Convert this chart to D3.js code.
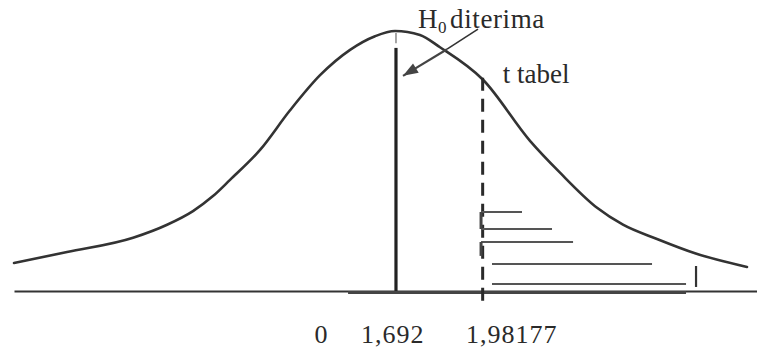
<!DOCTYPE html>
<html>
<head>
<meta charset="utf-8">
<script src="https://cdn.jsdelivr.net/npm/d3@7"></script>
<style>
  html, body { margin: 0; padding: 0; background: #fff; }
  svg { display: block; }
  text { font-family: "Liberation Serif", "Times New Roman", serif; fill: #2a2a2a; }
</style>
</head>
<body>
<svg id="chart" width="757" height="350"></svg>
<script>
// t distribution sketch: points along the bell (z units, density)
const curveZ = [-4.0, -3.443, -2.750, -2.393, -2.121, -1.911, -1.732, -1.417, -1.102, -0.787, -0.472, -0.210, 0.0,
                0.262, 0.472, 0.924, 1.417, 1.732, 2.121, 2.393, 2.750, 3.149, 3.695];
const curveDensity = [0.043, 0.060, 0.082, 0.102, 0.123, 0.146, 0.171, 0.217, 0.278, 0.332, 0.371, 0.392, 0.400,
                      0.394, 0.375, 0.325, 0.231, 0.182, 0.128, 0.102, 0.080, 0.058, 0.037];

// values marked on the axis and where they sit along it
const tickLabels = ["0", "1,692", "1,98177"];
const tickZ = [-0.777, -0.03, 1.22];

// t hitung (solid) and t tabel (dashed) on the axis
const tHitungZ = 0.01;
const tTabelZ = 0.92;

// rejection-area hatching: [zStart, zEnd, density]
const hatchZStart = [0.903, 0.903, 0.903, 1.018, 1.018];
const hatchZEnd   = [1.333, 1.648, 1.869, 2.698, 3.055];
const hatchLevel  = [0.1215, 0.0954, 0.0754, 0.0415, 0.0108];

const svg = d3.select("#chart");

const x = d3.scaleLinear().domain([-4, 3.8]).range([14, 757]);
const y = d3.scaleLinear().domain([0, 0.4]).range([291, 31]);

const ink = "#333";

// horizontal axis with the labelled values
const axis = d3.axisBottom(x)
  .tickValues(tickZ)
  .tickFormat((d, i) => tickLabels[i])
  .tickSize(0)
  .tickSizeOuter(0);

const gAxis = svg.append("g")
  .attr("transform", `translate(0,${y(0)})`)
  .call(axis);
gAxis.select(".domain").attr("stroke", ink).attr("stroke-width", 2.2);
gAxis.selectAll(".tick text")
  .attr("y", 52)
  .attr("dy", null)
  .attr("font-size", 26)
  .attr("letter-spacing", 1)
  .attr("font-family", "Liberation Serif")
  .attr("fill", "#2a2a2a");

// heavier stroke over the lower part of the axis
svg.append("line")
  .attr("x1", x(-0.493)).attr("x2", x(3.055))
  .attr("y1", y(0) + 1.5).attr("y2", y(0) + 1.5)
  .attr("stroke", "#444").attr("stroke-width", 3);

// the bell curve
const pts = curveZ.map((z, i) => [z, curveDensity[i]]);
svg.append("path")
  .datum(pts)
  .attr("fill", "none")
  .attr("stroke", ink)
  .attr("stroke-width", 2.6)
  .attr("stroke-linecap", "round")
  .attr("d", d3.line().x(d => x(d[0])).y(d => y(d[1])).curve(d3.curveMonotoneX));

// t hitung: solid line
svg.append("line")
  .attr("x1", x(tHitungZ)).attr("x2", x(tHitungZ))
  .attr("y1", y(0.374)).attr("y2", y(0))
  .attr("stroke", "#222").attr("stroke-width", 3.2);
svg.append("line")
  .attr("x1", x(tHitungZ)).attr("x2", x(tHitungZ))
  .attr("y1", y(0.397)).attr("y2", y(0.381))
  .attr("stroke", "#888").attr("stroke-width", 1.5);

// t tabel: dashed line
svg.append("line")
  .attr("x1", x(tTabelZ)).attr("x2", x(tTabelZ))
  .attr("y1", y(0.328)).attr("y2", y(-0.025))
  .attr("stroke", "#2a2a2a").attr("stroke-width", 3)
  .attr("stroke-dasharray", "13,8");

// hatching in the rejection area
const hatch = svg.append("g").attr("stroke", "#555").attr("stroke-width", 2);
hatchLevel.forEach((lv, i) => {
  hatch.append("line")
    .attr("x1", x(hatchZStart[i])).attr("x2", x(hatchZEnd[i]))
    .attr("y1", y(lv)).attr("y2", y(lv));
});
// short uprights closing the first brackets
hatch.append("line")
  .attr("x1", x(0.903)).attr("x2", x(0.903))
  .attr("y1", y(0.1215)).attr("y2", y(0.0954))
  .attr("stroke", "#444").attr("stroke-width", 3);
hatch.append("line")
  .attr("x1", x(0.903)).attr("x2", x(0.903))
  .attr("y1", y(0.0754)).attr("y2", y(0.054))
  .attr("stroke", "#444").attr("stroke-width", 3);
hatch.append("line")
  .attr("x1", x(3.16)).attr("x2", x(3.16))
  .attr("y1", y(0.0385)).attr("y2", y(0.0062))
  .attr("stroke", "#333").attr("stroke-width", 2.2);

// leader from the label to the curve, then arrow to t hitung
const leadFrom = [x(0.871), y(0.403)];
const bend = [x(0.546), y(0.372)];
const tip = [x(0.084), y(0.331)];

svg.append("line")
  .attr("x1", leadFrom[0]).attr("y1", leadFrom[1])
  .attr("x2", bend[0]).attr("y2", bend[1])
  .attr("stroke", "#333").attr("stroke-width", 1.6);
svg.append("line")
  .attr("x1", bend[0]).attr("y1", bend[1])
  .attr("x2", tip[0]).attr("y2", tip[1])
  .attr("stroke", "#444").attr("stroke-width", 2.2);

// arrowhead built along the arrow direction
const dx = bend[0] - tip[0], dy = bend[1] - tip[1];
const len = Math.hypot(dx, dy);
const ux = dx / len, uy = dy / len;
const headLen = 15, headHalf = 5.5;
const base = [tip[0] + ux * headLen, tip[1] + uy * headLen];
svg.append("path")
  .attr("d", d3.line()([
    tip,
    [base[0] - uy * headHalf, base[1] + ux * headHalf],
    [base[0] + uy * headHalf, base[1] - ux * headHalf]
  ]) + "Z")
  .attr("fill", "#444");

// labels
const h0 = svg.append("text")
  .attr("x", x(0.24)).attr("y", y(0.405))
  .attr("font-size", 27)
  .attr("letter-spacing", 0.6);
h0.append("tspan").text("H");
h0.append("tspan").attr("font-size", 17).attr("dy", 5).text("0");
h0.append("tspan").attr("dy", -5).attr("dx", 3).text("diterima");

svg.append("text")
  .attr("x", x(1.13)).attr("y", y(0.32))
  .attr("font-size", 27)
  .text("t tabel");
</script>
</body>
</html>
